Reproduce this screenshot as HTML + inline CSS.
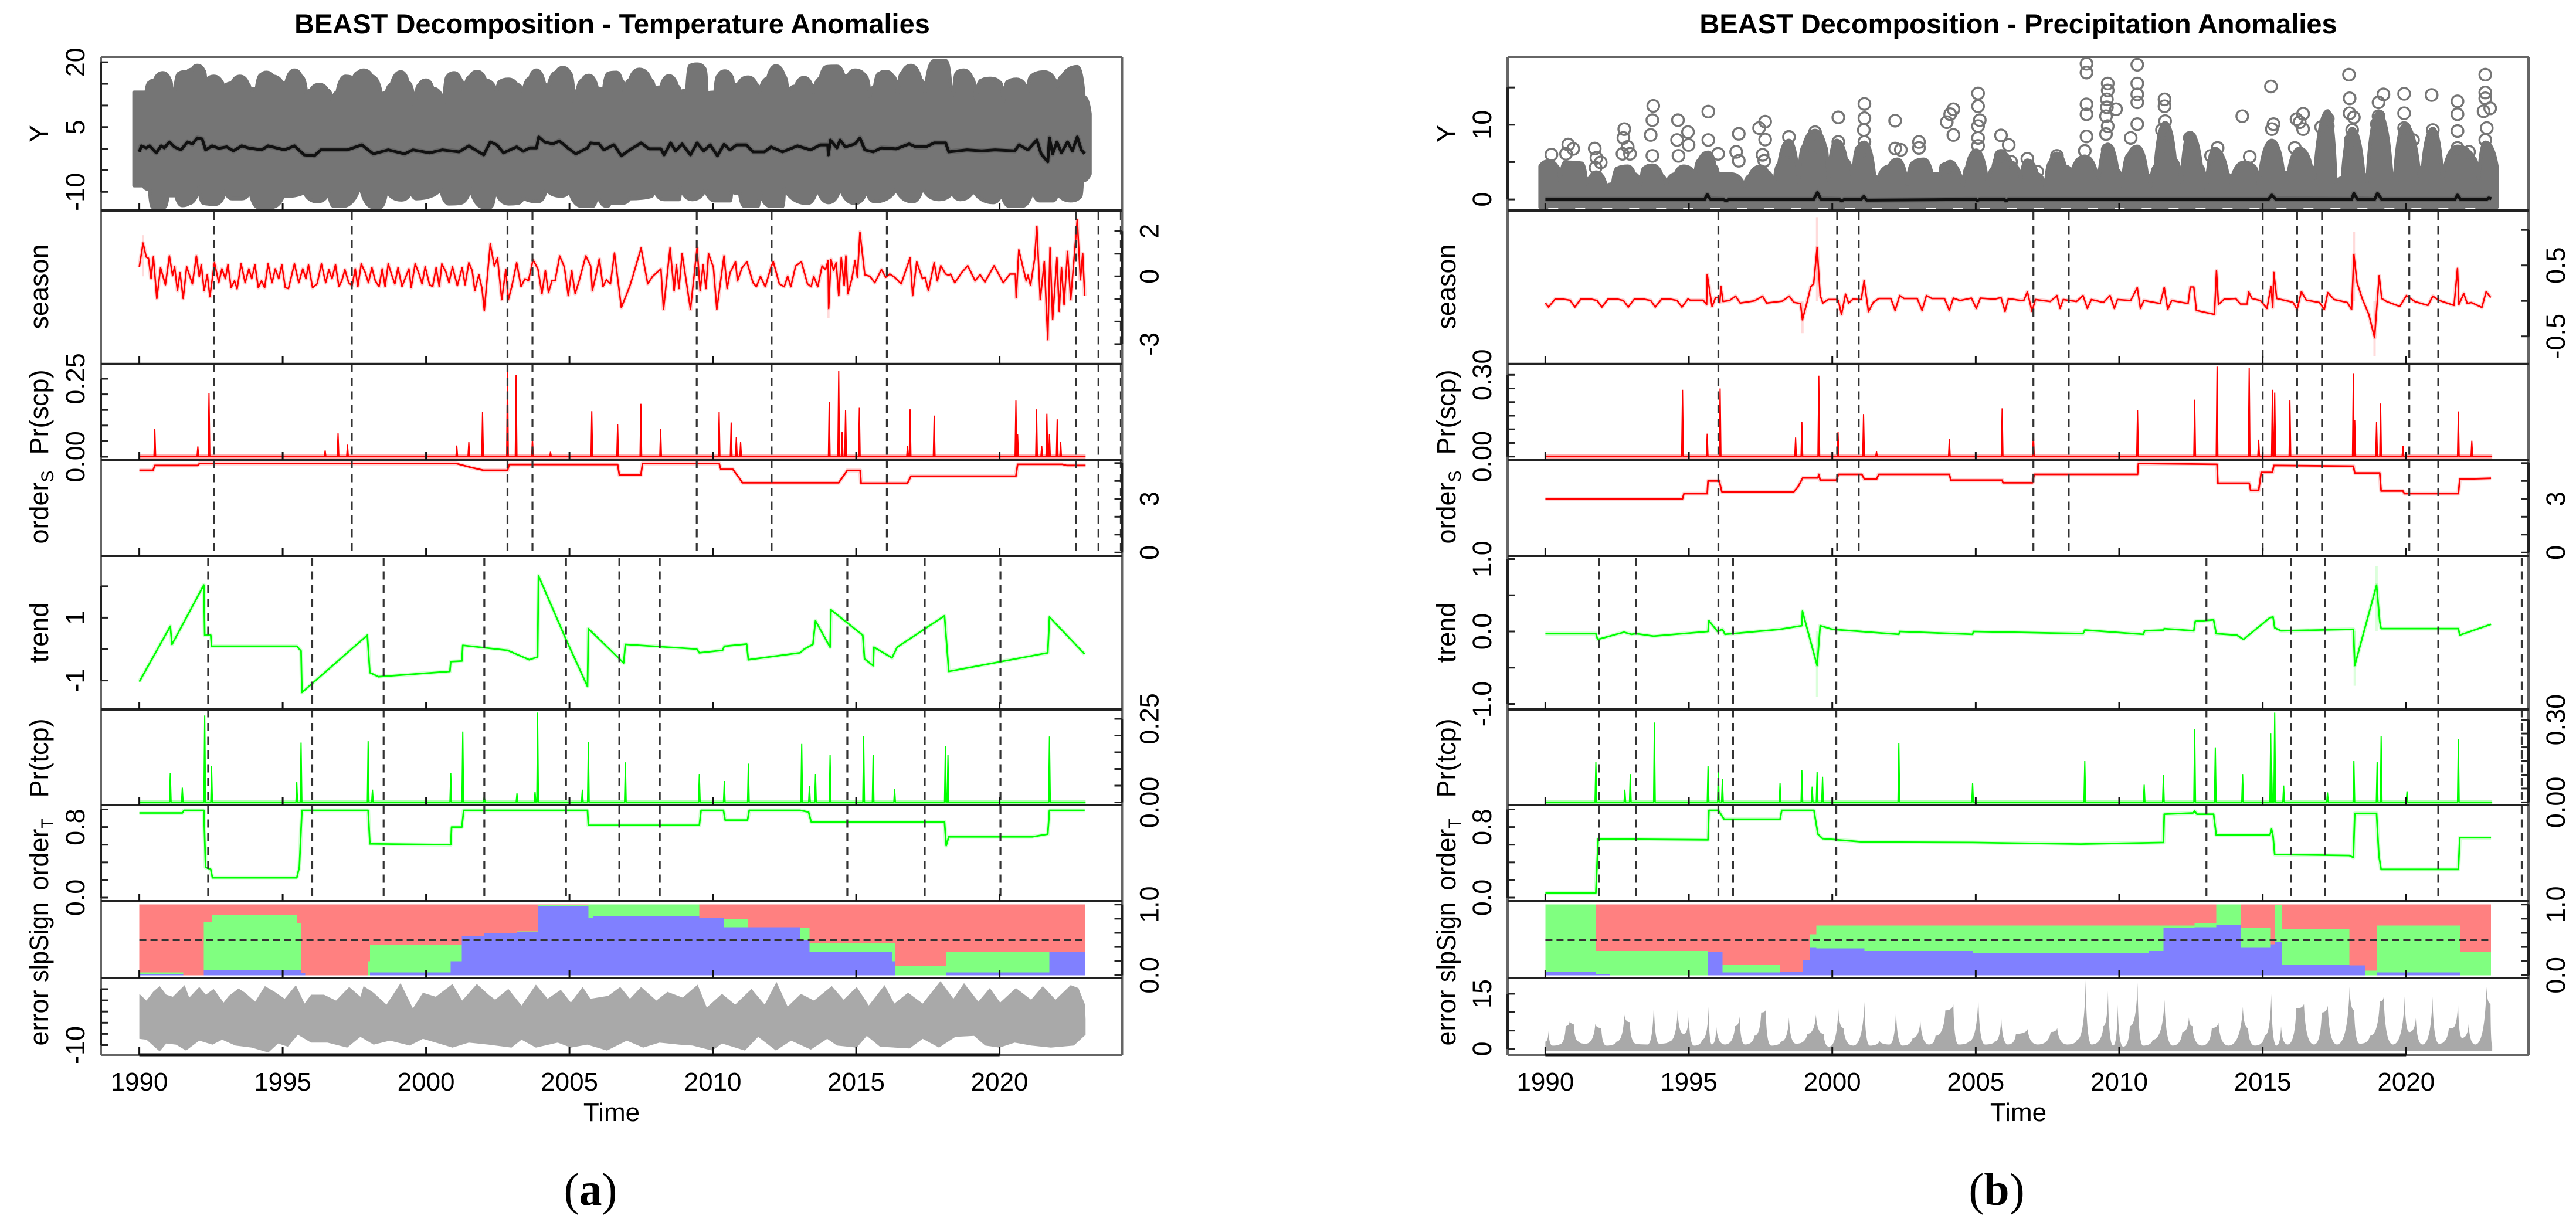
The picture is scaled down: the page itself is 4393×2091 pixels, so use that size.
<!DOCTYPE html>
<html lang="en">
<head>
<meta charset="utf-8">
<title>BEAST Decomposition - Temperature and Precipitation Anomalies</title>
<style>
html,body{margin:0;padding:0;background:#fff;}
svg{display:block;}
text{font-family:"Liberation Sans",sans-serif;fill:#000;}
.name{font-size:45px;text-anchor:middle;}
.time{font-size:44px;text-anchor:middle;}
.title{font-size:47px;font-weight:bold;text-anchor:middle;}
.cap{font-family:"Liberation Serif",serif;font-size:78px;text-anchor:middle;}
</style>
</head>
<body>
<svg id="figure" xmlns="http://www.w3.org/2000/svg" width="4393" height="2091" viewBox="0 0 4393 2091">
<rect x="0" y="0" width="4393" height="2091" fill="#fff"/>
<defs>
<clipPath id="clipYA"><rect x="172" y="97" width="1742" height="262"/></clipPath>
<clipPath id="clipYB"><rect x="2571" y="97" width="1741" height="262"/></clipPath>
</defs>
<g id="plotA"></g>
<g id="plotB"></g>

<text class="title" x="1044" y="57">BEAST Decomposition - Temperature Anomalies</text>
<text class="title" x="3442" y="57">BEAST Decomposition - Precipitation Anomalies</text>

<text class="name" transform="translate(82 228) rotate(-90)">Y</text>
<text class="name" transform="translate(82 489) rotate(-90)">season</text>
<text class="name" transform="translate(82 703) rotate(-90)">Pr(scp)</text>
<text class="name" transform="translate(82 865) rotate(-90)">order<tspan dy="9" font-size="30">S</tspan></text>
<text class="name" transform="translate(82 1079) rotate(-90)">trend</text>
<text class="name" transform="translate(82 1293) rotate(-90)">Pr(tcp)</text>
<text class="name" transform="translate(82 1457) rotate(-90)">order<tspan dy="9" font-size="30">T</tspan></text>
<text class="name" transform="translate(82 1607) rotate(-90)" textLength="136" lengthAdjust="spacingAndGlyphs">slpSign</text>
<text class="name" transform="translate(82 1736) rotate(-90)">error</text>

<text class="name" transform="translate(2482 228) rotate(-90)">Y</text>
<text class="name" transform="translate(2482 489) rotate(-90)">season</text>
<text class="name" transform="translate(2482 703) rotate(-90)">Pr(scp)</text>
<text class="name" transform="translate(2482 865) rotate(-90)">order<tspan dy="9" font-size="30">S</tspan></text>
<text class="name" transform="translate(2482 1079) rotate(-90)">trend</text>
<text class="name" transform="translate(2482 1293) rotate(-90)">Pr(tcp)</text>
<text class="name" transform="translate(2482 1457) rotate(-90)">order<tspan dy="9" font-size="30">T</tspan></text>
<text class="name" transform="translate(2482 1607) rotate(-90)" textLength="136" lengthAdjust="spacingAndGlyphs">slpSign</text>
<text class="name" transform="translate(2482 1736) rotate(-90)">error</text>

<text class="time" x="1043" y="1912">Time</text>
<text class="time" x="3442" y="1912">Time</text>
<text class="cap" x="1007" y="2055">(<tspan font-weight="bold">a</tspan>)</text>
<text class="cap" x="3405" y="2055">(<tspan font-weight="bold">b</tspan>)</text>
</svg>

<script>
/* ---------- shared axis data ---------- */
const yearTicks=[1990,1995,2000,2005,2010,2015,2020];

/* ---------- temperature: axis ticks and labels ---------- */
const tempYTicks=[20,15,10,5,0,-5,-10];
const tempYLabels=["20","5","-10"];
const tempSeasonTicks=[2,1,0,-1,-2,-3];
const tempSeasonLabels=["2","0","-3"];
const tempScpTicks=[0,0.05,0.1,0.15,0.2,0.25];
const tempScpLabels=["0.25","0.00"];
const orderSTicks=[0,1,2,3,4,5];
const orderSLabels=["3","0"];
const tempTrendTicks=[-1,0,1,2];
const tempTrendLabels=["1","-1"];
const tempTcpTicks=[0,0.05,0.1,0.15,0.2,0.25];
const tempTcpLabels=["0.25","0.00"];
const orderTTicks=[0,0.2,0.4,0.6,0.8,1];
const orderTLabels=["0.8","0.0"];
const signTicks=[0,0.2,0.4,0.6,0.8,1];
const signLabels=["1.0","0.0"];
const tempErrorTicks=[-10,-5,0,5,10,15];
const tempErrorLabels=["-10"];

/* ---------- temperature: change points ---------- */
const tempSeasonCps=[1992.61,1997.41,2002.84,2003.71,2009.44,2012.05,2016.07,2022.67,2023.45,2024.23];
const tempTrendCps=[1992.4,1996.03,1998.52,2002.03,2004.88,2006.74,2008.15,2014.69,2017.39,2020.03];

/* ---------- temperature: Y envelope of the scatter cloud ---------- */
const tempCloudTopYears=[1990,1990.24,1990.36,1990.53,1990.82,1991.07,1991.13,1991.25,1991.39,1991.68,1991.85,1992.02,1992.25,1992.31,1992.6,1992.88,1992.94,1993.05,1993.23,1993.51,1993.8,1993.86,1994.09,1994.26,1994.43,1994.66,1995.01,1995.12,1995.41,1995.64,1995.84,1995.98,1996.27,1996.56,1996.73,1996.9,1997.19,1997.47,1997.65,1997.82,1998.11,1998.45,1998.62,1998.79,1999.12,1999.37,1999.6,1999.77,2000,2000.23,2000.63,2000.75,2000.98,2001.21,2001.32,2001.55,2001.78,2002.07,2002.47,2002.58,2002.87,2003.16,2003.39,2003.62,2003.85,2004.13,2004.25,2004.54,2004.77,2005,2005.17,2005.28,2005.45,2005.68,2005.97,2006.2,2006.37,2006.64,2006.81,2006.92,2007.1,2007.44,2007.84,2007.96,2008.19,2008.47,2008.76,2008.87,2009.1,2009.22,2009.45,2009.71,2009.79,2010.08,2010.2,2010.42,2010.65,2010.71,2010.88,2011.23,2011.52,2011.63,2011.92,2012.2,2012.49,2012.61,2012.89,2013.18,2013.43,2013.52,2013.75,2013.98,2014.33,2014.58,2014.73,2014.96,2015.3,2015.48,2015.65,2015.82,2016.03,2016.28,2016.45,2016.62,2016.91,2017.26,2017.41,2017.72,2018.12,2018.29,2018.4,2018.52,2018.75,2019.04,2019.17,2019.38,2019.67,2020.01,2020.13,2020.3,2020.59,2020.99,2021.1,2021.56,2022.02,2022.19,2022.71,2022.94,2022.97];
const tempCloudTopValues=[12.1,12.1,14.4,14.9,16.6,14.9,12.8,12.8,16.5,16.9,17.4,18.3,17.1,14.6,15.8,14.4,12.3,13.9,14.2,15.8,13.9,12.6,13,16.2,16.7,15.8,13.9,14.4,17.2,15.8,11.2,12.6,13.9,12.6,10,12.1,15.8,15.3,16.7,17.2,15.8,11.2,12.1,13.9,16.8,14.4,8.9,13.9,14.9,13,9.8,15.8,16.6,14.9,11.9,15.8,16.9,14.9,12.1,14.6,15.1,13.9,12.1,15.3,17.2,13.9,13,16.7,17.8,16.7,9.8,12.6,14.9,16,13,12.8,16.5,16.7,14.9,12.1,14.9,17.4,14.9,13,13.3,15.9,13.5,12.1,12.6,18.3,18.6,17.6,11.9,12.1,16,17,15.8,13.9,13.9,15.6,13.9,12.1,15.3,18.2,15.8,12.1,13.5,15.5,13.9,12.1,15.3,18,18.1,15.5,16,17.2,16,11.2,13.5,16.5,16.9,15.8,11.9,16.7,18.3,14.9,12.1,19.4,19.4,13.5,11.6,16.7,17.2,15.3,10.7,14.9,15.3,14.4,10,14.6,15.1,12.3,15.8,16.8,13.5,15.8,18,11,7.1];
const tempCloudBottomYears=[1990,1990.13,1990.36,1990.47,1990.87,1990.99,1991.28,1991.5,1991.73,1992.08,1992.25,1992.65,1993,1993.23,1993.57,1993.86,1994.15,1994.6,1995.01,1995.75,1996.21,1996.61,1996.79,1997.07,1997.7,1998.16,1998.39,1998.62,1999.14,1999.48,1999.66,2000.52,2000.8,2001.15,2001.55,2002.01,2002.24,2002.41,2002.87,2003.16,2003.39,2003.9,2004.19,2004.71,2005,2005.45,2005.8,2005.97,2006.31,2006.41,2006.81,2007.1,2007.84,2007.96,2008.3,2008.82,2008.87,2009.28,2009.74,2010.08,2010.6,2010.65,2010.94,2011.11,2011.57,2011.63,2012.03,2012.43,2012.49,2013.3,2013.64,2014.04,2014.44,2014.96,2015.36,2015.65,2016.39,2016.97,2017.31,2017.89,2018.35,2018.63,2019.09,2019.78,2020.07,2020.36,2020.76,2021.16,2021.39,2021.85,2022.02,2022.48,2022.82,2022.88,2022.97];
const tempCloudBottomValues=[-7.6,-7.6,-8.5,-12.6,-12.6,-9.9,-9.9,-12.2,-11.7,-8,-11.7,-11.9,-8.8,-10.6,-10.6,-8.8,-12.6,-12.6,-10.1,-9.2,-11.3,-9.2,-12.4,-12.4,-7.6,-12.6,-12.6,-8.8,-10.9,-9,-10.6,-8.5,-11.8,-11.7,-8.3,-12.6,-12.6,-8.5,-11.8,-11.7,-10.4,-11.3,-8.5,-10,-8.8,-12.4,-12.4,-9.4,-12.4,-11.7,-11.7,-10.6,-10.1,-8.5,-10.8,-10.8,-8.1,-10.8,-8.5,-11.1,-11.1,-9,-9.4,-12.4,-12.4,-8.8,-12.4,-12.4,-8.3,-11.7,-8.1,-11.5,-8.1,-11.7,-8.8,-11.3,-8.5,-11.3,-8.1,-10.8,-9.2,-10.8,-8.8,-11.5,-9.4,-12.4,-12.4,-8.5,-11.1,-11.1,-9.4,-11.1,-10.1,-6.5,-4.9];

/* ---------- temperature: fitted Y ---------- */
const tempFitYears=[1990,1990.07,1990.24,1990.36,1990.59,1990.76,1990.87,1991.05,1991.22,1991.45,1991.68,1991.85,1992.02,1992.19,1992.31,1992.54,1992.77,1993.05,1993.28,1993.57,1993.8,1994.26,1994.49,1995.06,1995.41,1995.75,1996.1,1996.33,1996.79,1997.25,1997.76,1998.16,1998.68,1999.25,1999.54,2000.12,2000.57,2001.15,2001.49,2002.01,2002.24,2002.47,2002.7,2003.16,2003.39,2003.62,2003.85,2003.93,2004.13,2004.42,2004.65,2004.94,2005.22,2005.63,2005.74,2006.03,2006.2,2006.54,2006.58,2006.81,2007.1,2007.5,2007.78,2008.19,2008.3,2008.53,2008.7,2008.93,2009.22,2009.45,2009.68,2009.91,2010.16,2010.39,2010.6,2010.83,2011.17,2011.4,2011.8,2012.03,2012.43,2012.95,2013.41,2013.75,2014.01,2014.03,2014.1,2014.33,2014.44,2014.62,2014.96,2015.13,2015.3,2015.59,2015.88,2016.39,2016.85,2017.08,2017.43,2017.72,2018.12,2018.23,2018.86,2019.38,2019.84,2020.53,2020.68,2020.99,2021.3,2021.45,2021.68,2021.74,2021.85,2022,2022.16,2022.37,2022.54,2022.71,2022.85,2022.97];
const tempFitValues=[-0.73,0.64,0.19,0.65,-0.96,0.65,0.19,1.56,0.42,-0.27,1.56,1.1,2.48,2.25,-0.27,0.65,0.1,0.42,-0.5,0.65,0.19,-0.27,0.65,-0.27,0.65,-1.42,-1.65,-0.27,-0.27,-0.27,0.88,-1.19,-0.27,-1.19,-0.27,-0.96,-0.27,-0.73,0.65,-1.42,1.56,0.88,-0.96,0.42,-0.59,0.19,0.19,2.71,1.56,1.1,1.79,0.19,-1.19,0.19,1.33,1.1,-0.27,0.88,0.65,-1.65,-0.27,1.33,-0.04,-0.04,-1.42,1.33,-0.5,1.1,-1.42,1.33,-0.5,0.88,-1.65,1.01,-0.27,0.88,0.88,-0.73,-0.73,0.42,-0.73,0.65,-0.27,0.88,0.88,-1.42,2,0.19,2,0.42,1.1,2.48,-0.27,-0.73,0.19,-0.04,1.1,0.42,0.42,1.33,1.33,-0.73,-0.27,-0.5,-0.27,-0.5,0.88,-0.27,2.02,-1.19,-3.02,2.48,-1.19,1.56,-0.96,1.56,-0.5,2.71,-0.27,-1.19];

/* ---------- temperature: season ---------- */
const tempSeasonYears=[1990,1990.13,1990.24,1990.32,1990.41,1990.49,1990.61,1990.74,1990.91,1991.05,1991.16,1991.23,1991.33,1991.42,1991.53,1991.65,1991.85,1991.99,1992.09,1992.16,1992.26,1992.37,1992.46,1992.62,1992.77,1992.88,1993,1993.09,1993.2,1993.32,1993.41,1993.55,1993.69,1993.82,1993.92,1994.03,1994.15,1994.26,1994.37,1994.49,1994.63,1994.74,1994.86,1994.97,1995.09,1995.2,1995.41,1995.56,1995.7,1995.81,1995.9,1996.04,1996.2,1996.35,1996.5,1996.61,1996.72,1996.84,1996.96,1997.06,1997.17,1997.3,1997.42,1997.53,1997.62,1997.74,1997.88,1997.99,1998.11,1998.23,1998.36,1998.47,1998.57,1998.68,1998.8,1998.91,1999.02,1999.16,1999.4,1999.48,1999.62,1999.74,1999.86,1999.97,2000.12,2000.23,2000.35,2000.46,2000.55,2000.69,2000.8,2000.92,2001.09,2001.26,2001.36,2001.49,2001.61,2001.7,2001.84,2001.95,2002.03,2002.24,2002.38,2002.49,2002.64,2002.78,2002.87,2002.99,2003.16,2003.31,2003.45,2003.57,2003.73,2003.9,2004.04,2004.16,2004.27,2004.39,2004.5,2004.66,2004.82,2004.96,2005.08,2005.2,2005.34,2005.57,2005.74,2005.8,2005.92,2006.04,2006.17,2006.29,2006.43,2006.57,2006.81,2007.1,2007.21,2007.5,2007.73,2007.9,2008.19,2008.28,2008.51,2008.65,2008.73,2008.82,2008.93,2009.22,2009.45,2009.56,2009.66,2009.76,2009.85,2010.02,2010.14,2010.39,2010.5,2010.6,2010.79,2010.86,2011.02,2011.19,2011.4,2011.52,2011.66,2011.83,2012.03,2012.11,2012.32,2012.49,2012.61,2012.72,2012.89,2013.09,2013.3,2013.43,2013.52,2013.66,2013.81,2013.93,2014.02,2014.04,2014.12,2014.21,2014.3,2014.39,2014.48,2014.58,2014.64,2014.71,2014.85,2014.96,2015.04,2015.13,2015.3,2015.48,2015.65,2015.88,2016.03,2016.17,2016.34,2016.57,2016.88,2016.97,2017.11,2017.31,2017.4,2017.52,2017.72,2017.83,2017.95,2018.12,2018.23,2018.29,2018.44,2018.69,2018.89,2019.15,2019.32,2019.49,2019.81,2020.13,2020.36,2020.55,2020.58,2020.67,2020.93,2020.99,2021.08,2021.22,2021.3,2021.42,2021.56,2021.68,2021.76,2021.85,2022,2022.08,2022.16,2022.25,2022.37,2022.48,2022.71,2022.82,2022.9,2022.97];
const tempSeasonValues=[0.42,1.47,0.86,0.8,-0.1,0.86,-0.98,0.38,-0.37,0.9,0.03,0.42,-0.63,0.16,-0.98,0.42,-0.33,0.9,0,0.51,-0.63,0.07,-0.9,0.6,-0.28,0.33,-0.1,0.51,-0.5,-0.2,-0.55,0.55,-0.28,0.33,-0.1,0.51,-0.5,-0.2,-0.5,0.55,-0.28,0.33,-0.1,0.51,-0.5,-0.54,0.55,-0.28,0.33,-0.1,0.5,-0.5,-0.33,0.55,-0.28,0.29,-0.1,0.51,-0.45,-0.2,0.29,-0.28,-0.41,0.33,-0.45,0.55,0.16,-0.28,0.38,-0.2,-0.45,0.33,-0.45,0.55,0.07,-0.33,0.38,-0.45,0.33,-0.5,0.55,0.16,-0.33,0.42,-0.37,-0.45,0.38,-0.45,0.55,0.2,-0.28,0.42,-0.41,0.38,-0.37,0.6,0.25,-0.63,0.07,-0.54,-1.5,1.43,0.46,0.81,-1.03,0.29,-1.03,-0.45,0.6,-0.45,-0.11,-0.19,0.73,0.33,-0.76,0.25,-0.72,-0.19,-0.19,0.9,0.42,-0.85,0.25,-0.76,-0.19,0.9,0.46,-0.63,0.03,0.77,-0.45,-0.15,-0.33,1.03,-1.38,-0.45,0,1.25,-0.33,0,0.33,-1.46,1.25,-0.63,0.5,-0.54,1,-1.46,1.25,-0.63,0.5,-0.54,1,0.4,-1.46,0.9,-0.54,0.15,0.64,-0.2,0.38,0.64,-0.28,-0.46,0,-0.46,0.42,0.64,-0.33,-0.46,0,-0.46,0.46,0.64,-0.33,-0.46,0,-0.46,0.46,0.3,0.7,-1.42,0.75,0.25,0.6,-0.85,0.82,-0.4,0.9,-0.77,-0.1,0.68,-0.04,1.95,0.07,0,-0.28,0.3,-0.04,0.1,-0.04,-0.33,0.82,-0.85,0.64,-0.1,-0.04,-0.63,0.6,-0.2,0.47,0.1,0.05,0.1,-0.28,0.18,0.47,-0.2,0.08,-0.25,0.47,-0.28,0.1,0.1,-0.94,1.17,-0.2,0.05,-0.4,0.75,2.2,-1.03,0.64,-2.8,1.25,-1.9,0.82,-1.55,0.38,-1.25,1.1,-1.03,2.5,-0.15,1,-0.85];
const tempSeasonBandYears=[1990.13,2014.03];
const tempSeasonBandValues=[1.82,-1.86];

/* ---------- temperature: Pr(scp) ---------- */
const tempScpYears=[1990.54,1992.04,1992.43,1996.48,1996.93,1997.26,2001.07,2001.49,2001.97,2002.84,2003.14,2003.71,2004.34,2005.78,2006.68,2007.49,2008.18,2010.22,2010.64,2010.82,2010.97,2014.06,2014.39,2014.51,2014.63,2015.11,2016.79,2016.88,2017.72,2020.57,2020.63,2021.29,2021.47,2021.65,2021.74,2022.01,2022.13];
const tempScpValues=[0.0885,0.033,0.203,0.02,0.075,0.039,0.036,0.048,0.143,0.288,0.263,0.06,0.016,0.146,0.105,0.17,0.09,0.143,0.11,0.064,0.048,0.175,0.275,0.08,0.15,0.157,0.035,0.152,0.132,0.18,0.073,0.152,0.035,0.138,0.073,0.12,0.048];

/* ---------- temperature: orderS ---------- */
const tempOrderSYears=[1990,1990.48,1990.54,1992.04,1992.1,2001.04,2001.58,2002,2002.84,2002.9,2006.68,2006.74,2007.49,2007.55,2010.22,2010.28,2010.7,2010.88,2011.03,2014.39,2014.69,2015.14,2015.17,2016.79,2016.91,2020.57,2020.63,2022.19,2022.34,2023];
const tempOrderSValues=[4.6,4.6,4.87,4.87,4.98,4.98,4.75,4.6,4.6,4.92,4.92,4.33,4.33,4.98,4.98,4.65,4.65,4.26,3.9,3.9,4.59,4.59,3.88,3.88,4.27,4.27,4.93,4.93,4.87,4.87];

/* ---------- temperature: trend ---------- */
const tempTrendYears=[1990,1991.08,1991.14,1992.25,1992.28,1992.49,1992.52,1995.49,1995.64,1995.67,1997.95,1998.04,1998.34,2000.83,2000.86,2001.25,2001.28,2002.84,2003.6,2003.89,2003.92,2004.88,2005.63,2005.66,2006.89,2006.95,2009.44,2009.53,2010.34,2010.4,2011.18,2011.24,2013.04,2013.19,2013.49,2013.58,2014.09,2014.12,2015.23,2015.29,2015.59,2015.62,2016.25,2016.43,2018.08,2018.23,2021.68,2021.74,2022.97];
const tempTrendValues=[-1.04,0.725,0.15,2.04,0.44,0.44,0.09,0.09,-0.06,-1.38,0.44,-0.75,-0.88,-0.71,-0.4,-0.38,0.12,-0.04,-0.34,-0.25,2.33,0.31,-1.19,0.65,-0.44,0.15,0,-0.12,-0.04,0.09,0.16,-0.34,-0.12,0,0.15,0.9,0.06,1.25,0.44,-0.31,-0.53,0.06,-0.28,0.06,1.06,-0.71,-0.12,1.02,-0.16];

/* ---------- temperature: Pr(tcp) ---------- */
const tempTcpYears=[1991.08,1991.5,1992.28,1992.52,1995.49,1995.64,1997.98,1998.13,2000.86,2001.28,2002.03,2003.17,2003.8,2003.89,2005.45,2005.66,2006.95,2009.53,2010.4,2011.24,2013.1,2013.37,2013.58,2014.09,2015.26,2015.59,2016.34,2018.11,2018.2,2021.74];
const tempTcpValues=[0.088,0.044,0.26,0.108,0.061,0.179,0.183,0.038,0.088,0.212,0.024,0.027,0.032,0.269,0.038,0.18,0.12,0.085,0.064,0.116,0.175,0.05,0.085,0.142,0.198,0.142,0.041,0.169,0.142,0.197];

/* ---------- temperature: orderT ---------- */
const tempOrderTYears=[1990,1991.5,1991.56,1992.25,1992.31,1992.49,1992.55,1995.49,1995.58,1995.67,1997.98,1998.04,2000.86,2000.89,2001.25,2001.31,2005.63,2005.66,2009.53,2009.59,2010.37,2010.43,2011.21,2011.27,2013.04,2013.34,2013.43,2018.08,2018.14,2018.23,2021.14,2021.68,2021.74,2022.97];
const tempOrderTValues=[0.96,0.96,0.99,0.99,0.345,0.32,0.225,0.225,0.345,0.99,0.99,0.61,0.6,0.8,0.8,0.99,0.99,0.82,0.82,0.99,0.99,0.88,0.88,0.99,0.99,0.97,0.86,0.86,0.59,0.69,0.69,0.72,0.99,0.99];

/* ---------- temperature: slope sign probabilities ---------- */
const tempSignBreaks=[1990,1991.53,1992.25,1992.52,1995.49,1995.64,1995.79,1997.98,1998.04,2000.86,2001.25,2002.03,2003.17,2003.89,2005.66,2005.84,2009.53,2010.4,2011.24,2013.04,2013.37,2016.25,2016.37,2018.14,2021.74,2022.97];
const tempSignBlue=[0.02,0,0.07,0.07,0.07,0.03,0,0,0.04,0.2,0.555,0.595,0.61,0.98,0.805,0.83,0.805,0.68,0.68,0.5,0.33,0.2,0,0.04,0.33];
const tempSignGreen=[0.04,0,0.75,0.85,0.74,0.03,0,0.2,0.43,0.43,0.555,0.595,0.62,0.99,1,1,0.805,0.795,0.68,0.67,0.46,0.46,0.13,0.33,0.33];

/* ---------- temperature: error envelope ---------- */
const tempErrorTopYears=[1990,1990.25,1990.48,1990.71,1990.94,1991.17,1991.58,1991.74,1992.09,1992.32,1992.59,1992.94,1993.12,1993.46,1993.69,1994.04,1994.38,1994.72,1995.07,1995.46,1995.76,1995.99,1996.44,1996.86,1997.32,1997.71,1997.82,1998.17,1998.62,1999.11,1999.54,1999.89,2000.34,2000.92,2001.26,2001.77,2002.18,2002.41,2002.87,2003.33,2003.83,2004.24,2004.7,2005.05,2005.46,2005.73,2006.35,2006.77,2007.11,2007.5,2008.03,2008.42,2008.95,2009.47,2009.79,2010.32,2010.78,2011.35,2011.81,2012.22,2012.61,2013.07,2013.53,2014.15,2014.56,2015.02,2015.44,2015.99,2016.33,2016.81,2017.32,2017.94,2018.39,2018.76,2019.26,2019.66,2020.02,2020.57,2021.1,2021.51,2021.95,2022.48,2022.75,2022.98,2023];
const tempErrorTopValues=[12.9,9.9,13.8,16.4,12.5,11.6,16.8,11.2,16,12.5,15.1,9,12,15.3,13.4,9.4,16.4,13.8,10.7,16.8,8.55,12.5,12.5,9.9,16,11.6,16.4,13.4,8.1,17.7,6.4,13.4,11.6,17.3,9.9,17.3,12.5,10.3,15.1,7.7,17,10.7,14.7,9,16,10.7,12,16,10.7,16,9.9,13.8,11.2,17,6.8,12.9,8.1,15.1,8.1,18.2,7.2,12.9,9.9,16.4,10.3,16,7.7,16.8,8.55,13.4,8.55,18.6,10.7,17.7,9.4,15.5,9,15.5,10.3,16.4,10.3,16.8,15.5,8.1,1.6];
const tempErrorBottomYears=[1990,1990.25,1990.71,1990.94,1991.28,1991.63,1992.09,1992.55,1992.89,1993.35,1993.92,1994.5,1994.84,1995.18,1995.53,1995.99,1996.56,1997.25,1997.71,1998.17,1998.74,1999.43,1999.89,2000.34,2000.92,2001.49,2002.18,2002.98,2003.33,2003.83,2004.59,2005.05,2005.62,2006.31,2007,2007.57,2008.14,2008.83,2009.29,2009.98,2010.32,2011.12,2011.58,2012.2,2012.73,2013.42,2013.99,2014.33,2015.02,2015.37,2015.83,2016.86,2017.32,2017.89,2018.46,2019.11,2019.5,2020,2020.53,2021.1,2021.79,2022.59,2023];
const tempErrorBottomValues=[-7.2,-7.6,-12.8,-9.3,-9.8,-12.4,-8,-9.8,-7.6,-10.2,-11.1,-13.3,-9.3,-10.7,-5.4,-8.9,-8.9,-11.1,-6.3,-9.8,-8,-10.2,-7.2,-8.9,-11.1,-8.9,-9.8,-11.1,-7.6,-11.1,-8.9,-11.1,-9.8,-12.4,-8,-11.1,-8.9,-9.8,-10.2,-12.4,-9.3,-12.4,-6.3,-12.4,-8,-12,-7.2,-10.2,-11.1,-5.9,-10.7,-11.5,-7.2,-11.1,-6.3,-5.9,-10.2,-11.1,-8.9,-10.2,-11.1,-10.2,-5.4];

/* ---------- precipitation: axis ticks and labels ---------- */
const precipYTicks=[15,10,5,0];
const precipYLabels=["10","0"];
const precipSeasonTicks=[1,0.5,0,-0.5];
const precipSeasonLabels=["0.5","-0.5"];
const precipScpTicks=[0,0.05,0.1,0.15,0.2,0.25,0.3];
const precipScpLabels=["0.30","0.00"];
const precipTrendTicks=[-1,-0.5,0,0.5,1];
const precipTrendLabels=["1.0","0.0","-1.0"];
const precipTcpTicks=[0,0.05,0.1,0.15,0.2,0.25,0.3];
const precipTcpLabels=["0.30","0.00"];
const precipErrorTicks=[0,5,10,15];
const precipErrorLabels=["15","0"];

/* ---------- precipitation: change points ---------- */
const precipSeasonCps=[1996.03,2000.17,2000.92,2007.01,2008.24,2015,2016.2,2017.07,2020.11,2021.12];
const precipTrendCps=[1991.87,1993.16,1996.03,1996.54,2000.14,2013.04,2015.98,2017.18,2021.12,2024.03];

/* ---------- precipitation: Y cloud ---------- */
const precipCloudTopYears=[1990,1990.11,1990.4,1990.52,1990.69,1991.26,1991.43,1991.55,1991.78,1992.12,1992.35,1992.52,1992.87,1993.1,1993.33,1993.44,1993.73,1994.07,1994.21,1994.53,1994.82,1995.22,1995.36,1995.68,1995.91,1996.02,1996.48,1996.94,1997.11,1997.51,1997.74,1997.97,1998.14,1998.49,1998.83,1999,1999.4,1999.75,1999.86,2000.15,2000.49,2000.72,2000.89,2001.12,2001.47,2001.58,2001.98,2002.27,2002.61,2002.84,2003.19,2003.47,2003.76,2003.82,2004.11,2004.56,2004.68,2005.02,2005.42,2005.6,2005.88,2006.23,2006.57,2006.8,2007.14,2007.43,2007.6,2007.83,2008.11,2008.34,2008.8,2009.2,2009.29,2009.6,2009.94,2010.11,2010.34,2010.63,2010.97,2011.09,2011.26,2011.6,2011.95,2012.17,2012.46,2012.86,2013.03,2013.32,2013.78,2013.89,2014.35,2014.69,2014.86,2015.32,2015.72,2015.89,2016.29,2016.69,2016.81,2017.27,2017.55,2017.78,2018.12,2018.52,2018.64,2019.04,2019.5,2019.61,2019.95,2020.47,2020.58,2020.93,2021.27,2021.79,2022.36,2022.53,2022.76,2022.98];
const precipCloudTopValues=[3.9,4.57,3.9,1.78,4.43,4.3,1.51,2.31,3.1,1.25,1.51,3.64,3.9,2.84,1.51,3.64,4.04,2.58,1.51,2.84,3.9,2.84,4.7,5.76,3.9,2.84,2.84,1.25,2.58,3.9,3.1,1.25,4.17,7.35,1.78,6.56,8.68,6.56,2.04,7.35,4.7,2.04,6.29,7.09,2.58,2.04,3.9,4.83,1.51,4.43,4.83,2.84,2.84,4.04,4.3,1.25,3.64,6.03,1.25,3.64,5.76,4.43,2.31,4.7,2.84,0.98,4.43,5.63,3.9,3.1,5.23,3.1,2.31,6.82,3.37,1.25,5.5,6.56,2.84,1.25,3.9,9.74,4.7,1.78,8.42,3.9,0.72,6.29,2.84,1.78,4.43,3.9,1.51,7.35,3.1,2.84,6.29,3.9,2.31,11.3,1.78,2.31,8.95,2.84,1.78,11.07,2.58,2.84,9.48,2.58,3.9,8.95,2.31,6.56,4.96,2.31,7.09,3.9];
const precipCloudBottomYears=[1990,2022.98];
const precipCloudBottomValues=[-0.5,-0.5];
const precipOutlierYears=[1990.21,1990.8,1990.97,1990.72,1991.72,1991.78,1991.93,1991.75,1992.75,1992.72,1992.87,1992.69,1992.95,1993.76,1993.73,1993.67,1993.73,1994.62,1994.59,1994.97,1994.99,1994.64,1995.68,1995.68,1996.02,1996.74,1996.65,1996.74,1997.66,1997.45,1997.66,1997.57,1997.63,1998.49,1998.43,1999.4,1999.35,2000.21,2000.21,2001.12,2001.12,2001.1,2001.12,2001.01,2002.19,2002.19,2002.39,2003.02,2003.02,2004.22,2004.11,2003.99,2004.22,2004.11,2005.08,2005.08,2005.14,2005.08,2005.08,2005.08,2005.88,2006.15,2005.88,2006.23,2006.8,2007.14,2007.83,2008.8,2008.86,2008.86,2008.86,2008.86,2008.86,2009.6,2009.6,2009.57,2009.57,2009.89,2009.54,2009.6,2009.54,2009.6,2010.63,2010.63,2010.63,2010.63,2010.63,2010.4,2011.58,2011.58,2011.6,2011.49,2011.54,2012.46,2013.43,2013.2,2014.55,2014.29,2015.38,2015.32,2015.29,2016.18,2016.41,2016.29,2016.41,2016.12,2017.04,2017.27,2017.27,2018.01,2018.03,2018.03,2018.18,2018.12,2018.07,2019.04,2019.21,2019.04,2018.98,2019.93,2019.93,2019.93,2020.24,2020.89,2020.93,2020.93,2021.79,2021.79,2021.79,2021.79,2022.19,2022.76,2022.76,2022.76,2022.93,2022.7,2022.81,2022.76];
const precipOutlierValues=[6,7.35,6.77,6.11,6.82,5.57,4.96,4.25,9.42,8.23,7.03,6.11,6.11,12.53,10.62,8.63,5.84,10.62,7.96,9.02,7.3,5.84,11.77,7.96,6.11,8.79,6.37,5.18,10.42,9.56,8.01,5.97,5.18,8.37,6.37,9,7.03,11,7.7,12.8,10.88,9.29,7.7,6.51,10.54,6.82,6.64,7.7,6.9,12.08,11.42,10.35,8.63,4.38,14.2,12.48,10.62,9.82,8.23,7.17,8.58,7.3,5.84,5.04,5.44,3.72,5.84,6.5,18.18,16.99,12.74,11.41,8.44,15.53,14.6,13.41,12.34,12.08,11.15,9.82,8.76,6.64,18.05,15.53,14.07,13.01,10.09,8.23,13.41,12.48,10.49,9.29,7.17,8.23,6.9,5.84,5.71,11.15,10.09,9.42,15.13,10.75,11.47,10.35,9.42,6.9,9.69,10.8,9.82,16.72,13.54,11.54,11,9.29,7.96,11.15,14.07,13.01,10.09,14.15,11.55,9.56,7.96,13.99,9.29,8.1,13.14,11.41,9.16,6.9,6.37,16.72,14.33,13.54,12.21,11.81,9.56,7.96];
const precipFitYears=[1990,1995.55,1995.64,1995.75,1996.2,1996.3,1996.4,1999.35,1999.48,1999.6,2000.25,2000.32,2000.42,2001,2001.1,2001.2,2005,2005.05,2005.15,2006,2006.05,2006.15,2010,2015.2,2015.32,2015.45,2018.1,2018.18,2018.3,2018.9,2019,2019.15,2021.7,2021.79,2021.9,2022.8,2022.88,2022.97];
const precipFitValues=[0,0,0.66,0.05,0,-0.2,0,0,0.93,0.05,0,-0.2,0,0,0.4,-0.1,0,-0.15,0,0,-0.2,0,0,0,0.58,0.05,0,0.8,0.05,0,0.8,0,0,0.58,0,0,0.2,0.1];

/* ---------- precipitation: season ---------- */
const precipSeasonYears=[1990,1990.11,1990.34,1990.63,1990.86,1991.03,1991.23,1991.61,1991.8,1991.97,1992.18,1992.52,1992.72,1992.89,1993.1,1993.44,1993.67,1993.83,1994.05,1994.36,1994.59,1994.76,1994.97,1995.05,1995.5,1995.62,1995.64,1995.81,1995.93,1996.02,1996.08,1996.12,1996.19,1996.42,1996.63,1996.79,1997.28,1997.57,1997.71,1998.26,1998.5,1998.66,1998.89,1998.96,1999.12,1999.25,1999.35,1999.47,1999.58,1999.67,1999.86,2000.15,2000.21,2000.32,2000.46,2000.57,2000.72,2001.01,2001.11,2001.26,2001.43,2001.62,2002.04,2002.19,2002.35,2002.5,2002.96,2003.13,2003.28,2003.47,2003.91,2004.08,2004.22,2004.45,2004.85,2005.02,2005.16,2005.65,2005.88,2006.02,2006.14,2006.57,2006.68,2006.8,2006.96,2007.08,2007.6,2007.83,2007.94,2008.05,2008.51,2008.74,2008.89,2009.03,2009.45,2009.68,2009.83,2009.94,2010.4,2010.63,2010.74,2010.86,2011.43,2011.57,2011.69,2011.83,2012.4,2012.48,2012.6,2012.69,2013.32,2013.39,2013.46,2013.66,2014.06,2014.23,2014.46,2014.51,2014.63,2014.92,2015.15,2015.29,2015.35,2015.39,2015.49,2015.95,2016.06,2016.2,2016.35,2016.52,2016.98,2017.15,2017.27,2017.49,2017.95,2018.1,2018.18,2018.29,2018.47,2018.7,2018.9,2019.06,2019.15,2019.32,2019.78,2020.01,2020.3,2020.76,2020.93,2021.16,2021.67,2021.79,2021.84,2022.01,2022.13,2022.27,2022.64,2022.79,2022.95];
const precipSeasonValues=[-0.03,-0.087,0.025,0.025,0.01,-0.087,0.025,0.025,0.006,-0.087,0.025,0.025,0.006,-0.087,0.025,0.025,0.006,-0.087,0.025,0.025,0.006,-0.087,0.028,0.011,0.011,-0.05,0.37,-0.08,0.047,0.047,-0.022,0.2,-0.008,0.006,0.067,-0.03,0,0.067,-0.03,-0.003,0.067,-0.02,-0.036,-0.265,-0.02,0.2,0.24,0.75,0.076,-0.03,0.02,0.02,0.006,-0.19,0.095,-0.03,0.025,0.02,0.285,-0.15,-0.02,0.034,0.034,-0.134,0.076,0.034,0.034,-0.134,0.076,0.034,0.034,-0.134,0.04,0.006,0.04,-0.106,0.04,0.025,0.047,-0.148,0.034,0.006,0.011,0.13,-0.148,0.02,-0.008,0.076,-0.106,0.02,-0.008,0.076,-0.106,0.02,-0.022,0.076,-0.106,0.02,0.006,0.187,-0.106,0.006,-0.036,0.187,-0.12,0.006,-0.036,0.196,0.196,-0.134,-0.19,0.425,-0.05,0.025,0.034,-0.045,-0.045,0.13,0.034,0.006,-0.106,0.2,-0.092,0.4,0.034,-0.008,-0.022,-0.12,0.131,0.011,-0.022,-0.12,0.117,0.02,-0.022,-0.12,0.65,0.257,0.034,-0.19,-0.518,0.355,0.034,-0.008,-0.078,0.076,-0.008,-0.064,0.067,0.006,-0.064,0.458,-0.05,0.103,-0.036,-0.022,-0.092,0.131,0.047];
const precipSeasonBandYears=[1999.47,1998.96,2018.18,2018.9];
const precipSeasonBandValues=[1.18,-0.455,0.97,-0.78];

/* ---------- precipitation: Pr(scp) ---------- */
const precipScpYears=[1994.78,1995.64,1996.09,1998.72,1998.94,1999.53,2000.2,2001.09,2001.54,2004.08,2005.92,2007.01,2010.64,2012.63,2013.41,2014.53,2014.86,2015.34,2015.42,2015.95,2018.16,2018.21,2018.97,2019.11,2019.89,2021.82,2022.29];
const precipScpValues=[0.245,0.084,0.25,0.07,0.127,0.297,0.09,0.156,0.019,0.065,0.177,0.086,0.17,0.209,0.33,0.325,0.062,0.245,0.235,0.206,0.304,0.134,0.127,0.195,0.04,0.166,0.058];

/* ---------- precipitation: orderS ---------- */
const precipOrderSYears=[1990,1994.78,1994.83,1995.64,1995.67,1996.06,1996.15,1998.66,1998.8,1998.97,1999.5,1999.53,1999.58,2000.14,2000.22,2001.03,2001.12,2001.54,2001.62,2004.08,2004.13,2005.92,2005.95,2006.98,2007.04,2010.64,2010.67,2013.41,2013.44,2014.53,2014.58,2014.86,2014.95,2015.34,2015.39,2018.16,2018.21,2019.08,2019.13,2019.89,2019.94,2021.82,2021.87,2022.96];
const precipOrderSValues=[3,3,3.29,3.29,4,4,3.4,3.4,3.66,4.17,4.17,4.37,4.05,4.05,4.37,4.37,4.1,4.1,4.37,4.37,4.05,4.05,3.9,3.9,4.37,4.37,4.98,4.93,3.88,3.88,3.48,3.48,4.48,4.48,4.87,4.83,4.45,4.45,3.44,3.44,3.29,3.29,4.1,4.15];

/* ---------- precipitation: trend ---------- */
const precipTrendYears=[1990,1991.76,1991.82,1992.74,1993,1993.16,1993.77,1995.67,1995.7,1996,1996.17,1996.26,1998.18,1998.94,1998.96,1999.47,1999.58,2000,2002.32,2002.35,2004.89,2004.92,2008.74,2008.8,2010.84,2010.89,2011.54,2011.57,2012.6,2012.65,2013.29,2013.38,2014.1,2014.33,2015.25,2015.36,2015.42,2015.64,2018.16,2018.21,2018.97,2019.08,2019.13,2021.82,2021.87,2022.96];
const precipTrendValues=[-0.03,-0.03,-0.11,-0.01,-0.04,-0.03,-0.064,0,0.15,0,0.03,-0.04,0.03,0.08,0.28,-0.47,0.08,0.03,-0.04,0,-0.04,0,-0.03,0.02,-0.04,0.01,0.02,0.04,0.01,0.14,0.16,-0.03,-0.05,-0.11,0.19,0.2,0.05,0.01,0.03,-0.47,0.64,0.14,0.04,0.04,-0.05,0.1];
const precipTrendBandYears=[1999.47,2018.21,2018.97];
const precipTrendBandValues=[-0.9,-0.75,0.9];

/* ---------- precipitation: Pr(tcp) ---------- */
const precipTcpYears=[1991.76,1992.77,1992.96,1993.8,1995.67,1996.03,1996.17,1998.18,1998.94,1999.3,1999.47,1999.66,2002.32,2004.89,2008.8,2010.87,2011.54,2012.63,2013.35,2014.3,2015.28,2015.31,2015.42,2015.73,2017.26,2018.18,2018.99,2019.13,2020.03,2021.82];
const precipTcpValues=[0.146,0.046,0.103,0.29,0.131,0.114,0.086,0.069,0.117,0.057,0.111,0.093,0.214,0.071,0.15,0.064,0.1,0.267,0.2,0.103,0.25,0.143,0.326,0.061,0.036,0.15,0.147,0.24,0.04,0.231];

/* ---------- precipitation: orderT ---------- */
const precipOrderTYears=[1990,1991.76,1991.84,1995.67,1995.7,1996.03,1996.23,1998.18,1998.24,1999.36,1999.5,1999.66,2001.12,2004.89,2008.66,2011.54,2011.57,2012.57,2012.63,2012.71,2013.29,2013.38,2015.25,2015.31,2015.36,2015.42,2018.02,2018.16,2018.21,2018.97,2019.05,2019.13,2021.82,2021.87,2022.96];
const precipOrderTValues=[0.055,0.055,0.665,0.656,0.99,0.99,0.89,0.89,0.99,0.99,0.72,0.67,0.63,0.625,0.607,0.625,0.946,0.96,0.98,0.946,0.946,0.71,0.71,0.776,0.7,0.49,0.478,0.456,0.955,0.955,0.478,0.32,0.32,0.68,0.68];

/* ---------- precipitation: slope sign probabilities ---------- */
const precipSignBreaks=[1990,1991.76,1992.26,1995.67,1996.17,1998.18,1998.97,1999.22,1999.44,2001.12,2004.89,2011.03,2011.54,2012.63,2013.38,2014.25,2015.28,2015.42,2015.67,2018.02,2018.58,2018.99,2021.87,2022.96];
const precipSignBlue=[0.055,0.02,0,0.333,0.04,0.05,0.22,0.39,0.38,0.345,0.32,0.345,0.665,0.68,0.71,0.39,0.44,0.47,0.15,0.14,0,0.04,0];
const precipSignGreen=[1,0.345,0.345,0.333,0.15,0.05,0.22,0.58,0.705,0.705,0.705,0.705,0.705,0.74,1,0.665,0.44,0.99,0.655,0.14,0.067,0.705,0.33];

/* ---------- precipitation: error envelope ---------- */
const precipErrorTopYears=[1990,1990.11,1990.25,1990.48,1990.71,1990.85,1990.99,1991.17,1991.4,1991.74,1991.95,1992.13,1992.48,1992.75,1992.94,1993.17,1993.56,1993.78,1993.97,1994.31,1994.61,1994.82,1995,1995.18,1995.46,1995.69,1995.8,1995.96,1996.26,1996.61,1996.77,1996.95,1997.29,1997.52,1997.68,1997.87,1998.21,1998.49,1998.74,1999.13,1999.43,1999.7,1999.89,2000.21,2000.39,2000.73,2001.12,2001.31,2001.65,2001.99,2002.22,2002.45,2002.8,2003.07,2003.37,2003.6,2003.94,2004.22,2004.4,2004.75,2005.09,2005.32,2005.66,2005.89,2006.12,2006.4,2006.81,2007.16,2007.61,2007.84,2008.19,2008.53,2008.83,2009.04,2009.45,2009.61,2009.79,2009.95,2010.14,2010.37,2010.64,2010.83,2011.17,2011.58,2011.86,2012.2,2012.43,2012.55,2012.89,2013.23,2013.46,2013.81,2014.31,2014.49,2014.73,2015.07,2015.3,2015.48,2015.64,2015.87,2016.17,2016.44,2016.79,2017.06,2017.27,2017.59,2018.03,2018.19,2018.39,2018.74,2019.08,2019.22,2019.54,2019.95,2020.11,2020.34,2020.57,2020.92,2021.15,2021.49,2021.61,2021.81,2021.95,2022.18,2022.41,2022.8,2022.94,2023];
const precipErrorTopValues=[2,4.9,0.9,1.2,6.2,7.6,6.8,2,1.4,6.8,5.7,0.9,2,9.4,7.3,1.4,1.2,12.9,1.4,2,10.7,4.1,9.1,0.9,2.5,11.5,1.2,6,1.2,6.2,8.9,1.2,3.6,9.9,10.6,0.9,2,8.6,1.4,4.1,9.4,4.1,0.6,11,5.7,0.9,12.8,0.9,2.2,1.2,10.9,0.9,3,7.8,1.2,3.6,10.5,12.1,1.2,2,14.3,1.2,2,8.6,1.2,4.1,5.4,1.2,4.6,5.7,1.2,2.5,18.7,1.2,6.2,15.8,0.9,12.1,0.6,6.2,18,0.9,2.5,13.4,0.9,4.6,8.6,6.2,0.9,5.7,7.2,0.9,11.5,5.7,0.9,3.6,15,0.9,6.2,1.2,11,12.3,1.2,9.9,11.8,1.2,16.9,10.5,1.4,3.6,12.9,14.2,1.2,14.3,4.6,8.4,1.2,14.2,1.4,5.7,5.7,12.9,3,6.8,1.2,16.9,12.3,0.9];
const precipErrorBottomYears=[1990,2023];
const precipErrorBottomValues=[-0.55,-0.55];

/* ---------- rendering helpers ---------- */
const NS='http://www.w3.org/2000/svg';
function add(parent,tag,attrs){
  const el=document.createElementNS(NS,tag);
  for(const k in attrs){el.setAttribute(k,attrs[k]);}
  parent.appendChild(el);
  return el;
}
function pts(years,values,xf,yf){
  return years.map((t,i)=>xf(t).toFixed(1)+','+yf(values[i]).toFixed(1)).join(' ');
}
function drawLine(g,years,values,xf,yf,color,width,name){
  const p=pts(years,values,xf,yf);
  const band=add(g,'polyline',{points:p,fill:'none',stroke:color,'stroke-opacity':0.16,'stroke-width':width+4,'stroke-linejoin':'round'});
  
  
  const el=add(g,'polyline',{points:p,fill:'none',stroke:color,'stroke-width':width,'stroke-linejoin':'round'});
  
  
}
function drawBandSpikes(g,years,values,baseline,xf,yf,color,name){
  years.forEach((t,i)=>{
    const el=add(g,'line',{x1:xf(t),x2:xf(t),y1:yf(baseline),y2:yf(values[i]),stroke:color,'stroke-opacity':0.14,'stroke-width':4});
    
    
  });
}
function drawSpikes(g,years,values,end,xf,yf,color,name){
  const dt=0.03;
  let d='M'+xf(1990).toFixed(1)+' '+yf(0).toFixed(1);
  years.forEach((t,i)=>{
    d+=' L'+xf(t-dt).toFixed(1)+' '+yf(0).toFixed(1)+' L'+xf(t).toFixed(1)+' '+yf(values[i]).toFixed(1)+' L'+xf(t+dt).toFixed(1)+' '+yf(0).toFixed(1);
  });
  d+=' L'+xf(end).toFixed(1)+' '+yf(0).toFixed(1);
  const band=add(g,'line',{x1:xf(1990),x2:xf(end),y1:yf(0),y2:yf(0),stroke:color,'stroke-opacity':0.3,'stroke-width':8});
  
  
  const el=add(g,'path',{d:d,fill:color,stroke:color,'stroke-width':2,'stroke-linejoin':'miter'});
  
  
}
/* Joins envelope points: 'line' is straight, 'bump' bulges outward (rounded peaks, sharp valleys),
   'spike' hugs the inner level and rises sharply at each peak. */
function curveThrough(points,outward,mode,f){
  let d='';
  for(let i=1;i<points.length;i++){
    const a=points[i-1],b=points[i];
    if(mode==='line'){
      d+=' L'+b[0].toFixed(1)+' '+b[1].toFixed(1);
      continue;
    }
    const aOuter=(a[1]-b[1])*outward>0;
    const outer=aOuter?a:b,inner=aOuter?b:a;
    const cx=inner[0]+f*(outer[0]-inner[0]);
    const cy=mode==='bump'?outer[1]:inner[1];
    d+=' Q'+cx.toFixed(1)+' '+cy.toFixed(1)+' '+b[0].toFixed(1)+' '+b[1].toFixed(1);
  }
  return d;
}
function drawEnvelope(g,topY,topV,botY,botV,xf,yf,color,strokeWidth,name,clip,mode,f,shift,pad){
  const top=topY.map((t,i)=>[xf(t),yf(topV[i])-shift]);
  const bot=botY.map((t,i)=>[xf(t),yf(botV[i])+shift]).reverse();
  top[0][0]-=pad;
  top[top.length-1][0]+=pad;
  bot[0][0]+=pad;
  bot[bot.length-1][0]-=pad;
  const d='M'+top[0][0].toFixed(1)+' '+top[0][1].toFixed(1)+curveThrough(top,-1,mode,f)
    +' L'+bot[0][0].toFixed(1)+' '+bot[0][1].toFixed(1)+curveThrough(bot,1,mode,f)+' Z';
  const attrs={d:d,fill:color,stroke:color,'stroke-width':strokeWidth,'stroke-linejoin':'round'};
  if(clip){attrs['clip-path']='url(#'+clip+')';}
  const el=add(g,'path',attrs);
  
  
}
function drawStack(g,breaks,blue,green,xf,yf,name){
  for(let i=0;i<blue.length;i++){
    const x=xf(breaks[i]),w=xf(breaks[i+1])-x;
    const r=add(g,'rect',{x:x,width:w,y:yf(1),height:yf(green[i])-yf(1),fill:'#ff8080','shape-rendering':'crispEdges'});
    
    
    const m=add(g,'rect',{x:x,width:w,y:yf(green[i]),height:yf(blue[i])-yf(green[i]),fill:'#80ff80','shape-rendering':'crispEdges'});
    
    
    const b=add(g,'rect',{x:x,width:w,y:yf(blue[i]),height:yf(0)-yf(blue[i]),fill:'#8080ff','shape-rendering':'crispEdges'});
    
    
  }
  const mid=add(g,'line',{x1:xf(1990),x2:xf(breaks[breaks.length-1]),y1:yf(0.5),y2:yf(0.5),stroke:'#333','stroke-width':4,'stroke-dasharray':'12 7'});
  
  
}
function drawCps(g,cps,y1,y2,xf,name){
  cps.forEach(t=>{
    const el=add(g,'line',{x1:xf(t),x2:xf(t),y1:y1,y2:y2,stroke:'#333','stroke-width':3.2,'stroke-dasharray':'14 9.5'});
    
    
  });
}
function drawYAxis(g,side,ticks,labels,yf,fx,name){
  const dir=side==='left'?1:-1;
  const ys=ticks.map(yf);
  const axis=add(g,'line',{x1:fx,x2:fx,y1:Math.min.apply(null,ys),y2:Math.max.apply(null,ys),stroke:'#222','stroke-width':4});
  
  
  ticks.forEach(v=>{
    const t=add(g,'line',{x1:fx,x2:fx+dir*13,y1:yf(v),y2:yf(v),stroke:'#222','stroke-width':3});
    
    
  });
  const bx=side==='left'?fx-28:fx+62;
  labels.forEach(s=>{
    const y=yf(parseFloat(s));
    const el=add(g,'text',{transform:'translate('+bx+' '+y.toFixed(1)+') rotate(-90)','text-anchor':'middle','font-size':45});
    el.textContent=s;
    
    
  });
}
function drawFrame(g,left,right,xf){
  const edge=[[left,97,right,97],[right,97,right,1799],[left,1799,right,1799],[left,97,left,1799]];
  edge.forEach(s=>{
    const e=add(g,'line',{x1:s[0],y1:s[1],x2:s[2],y2:s[3],stroke:'#666','stroke-width':4});
    
    
  });
  [359,620.7,784,948,1210,1373,1537,1668].forEach(y=>{
    const d=add(g,'line',{x1:left,x2:right,y1:y,y2:y,stroke:'#222','stroke-width':4});
    
    
    yearTicks.forEach(t=>{
      const k=add(g,'line',{x1:xf(t),x2:xf(t),y1:y,y2:y-13,stroke:'#111','stroke-width':3});
      
      
    });
  });
  yearTicks.forEach(t=>{
    const k=add(g,'line',{x1:xf(t),x2:xf(t),y1:1799,y2:1786,stroke:'#111','stroke-width':3});
    
    
    const lab=add(g,'text',{x:xf(t),y:1860,'text-anchor':'middle','font-size':44});
    lab.textContent=String(t);
    
    
  });
  const ax=add(g,'line',{x1:xf(yearTicks[0]),x2:xf(yearTicks[yearTicks.length-1]),y1:1799,y2:1799,stroke:'#111','stroke-width':5});
  
  
}

/* ---------- axis functions ---------- */
const xA=t=>237.6+(t-1990)*48.9;
const xB=t=>2635.4+(t-1990)*48.93;
const scale=(y0,k)=>v=>y0-k*v;

/* ---------- temperature plot ---------- */
(function(){
  const g=document.getElementById('plotA');
  const yY=scale(253.6,7.37),ySeason=scale(471.3,38.54),yScp=scale(779,532),yOS=scale(942.3,30.5),
        yTrend=scale(1107,53.6),yTcp=scale(1368.5,570),yOT=scale(1531,150.5),ySign=scale(1663.4,120.7),yErr=scale(1744.3,3.82);
  drawEnvelope(g,tempCloudTopYears,tempCloudTopValues,tempCloudBottomYears,tempCloudBottomValues,xA,yY,'#757575',6,'temperature-observation-cloud','clipYA','bump',0.35,7,9);
  drawLine(g,tempFitYears,tempFitValues,xA,yY,'#111',5,'temperature-fitted-line');
  drawBandSpikes(g,tempSeasonBandYears,tempSeasonBandValues,0,xA,ySeason,'#ff0000','temperature-season-ci-spike');
  drawLine(g,tempSeasonYears,tempSeasonValues,xA,ySeason,'#ff0000',2.6,'temperature-season-line');
  drawSpikes(g,tempScpYears,tempScpValues,2023,xA,yScp,'#ff0000','temperature-scp-probability');
  drawLine(g,tempOrderSYears,tempOrderSValues,xA,yOS,'#ff0000',2.8,'temperature-order-s-line');
  drawCps(g,tempSeasonCps,362,947,xA,'temperature-season-changepoint');
  drawLine(g,tempTrendYears,tempTrendValues,xA,yTrend,'#00ff00',2.8,'temperature-trend-line');
  drawSpikes(g,tempTcpYears,tempTcpValues,2023,xA,yTcp,'#00ff00','temperature-tcp-probability');
  drawLine(g,tempOrderTYears,tempOrderTValues,xA,yOT,'#00ff00',2.8,'temperature-order-t-line');
  drawCps(g,tempTrendCps,951,1536,xA,'temperature-trend-changepoint');
  drawStack(g,tempSignBreaks,tempSignBlue,tempSignGreen,xA,ySign,'temperature-slope-sign');
  drawEnvelope(g,tempErrorTopYears,tempErrorTopValues,tempErrorBottomYears,tempErrorBottomValues,xA,yErr,'#a9a9a9',0,'temperature-error-band',null,'line',0,0,0);
  drawFrame(g,172,1913.5,xA);
  drawYAxis(g,'left',tempYTicks,tempYLabels,yY,172,'temperature-y');
  drawYAxis(g,'right',tempSeasonTicks,tempSeasonLabels,ySeason,1913.5,'temperature-season');
  drawYAxis(g,'left',tempScpTicks,tempScpLabels,yScp,172,'temperature-scp');
  drawYAxis(g,'right',orderSTicks,orderSLabels,yOS,1913.5,'temperature-order-s');
  drawYAxis(g,'left',tempTrendTicks,tempTrendLabels,yTrend,172,'temperature-trend');
  drawYAxis(g,'right',tempTcpTicks,tempTcpLabels,yTcp,1913.5,'temperature-tcp');
  drawYAxis(g,'left',orderTTicks,orderTLabels,yOT,172,'temperature-order-t');
  drawYAxis(g,'right',signTicks,signLabels,ySign,1913.5,'temperature-slp-sign');
  drawYAxis(g,'left',tempErrorTicks,tempErrorLabels,yErr,172,'temperature-error');
})();

/* ---------- precipitation plot ---------- */
(function(){
  const g=document.getElementById('plotB');
  const yY=scale(340.1,12.73),ySeason=scale(513.2,121),yScp=scale(778.7,464.7),yOS=scale(942.3,30.5),
        yTrend=scale(1077,123.5),yTcp=scale(1368.4,469.2),yOT=scale(1531,150.5),ySign=scale(1663.4,120.7),yErr=scale(1789,6.27);
  drawEnvelope(g,precipCloudTopYears,precipCloudTopValues,precipCloudBottomYears,precipCloudBottomValues,xB,yY,'#757575',6,'precipitation-observation-cloud','clipYB','bump',0.35,7,9);
  precipOutlierYears.forEach((t,i)=>{
    const c=add(g,'circle',{cx:xB(t).toFixed(1),cy:yY(precipOutlierValues[i]).toFixed(1),r:10,fill:'none',stroke:'#757575','stroke-width':3.4,'clip-path':'url(#clipYB)'});
    
    
  });
  const base=add(g,'line',{x1:xB(1990.1),x2:xB(2022.9),y1:355.3,y2:355.3,stroke:'#fff','stroke-width':2.5,'stroke-dasharray':'17 29'});
  
  
  drawLine(g,precipFitYears,precipFitValues,xB,yY,'#111',5,'precipitation-fitted-line');
  drawBandSpikes(g,precipSeasonBandYears,precipSeasonBandValues,0,xB,ySeason,'#ff0000','precipitation-season-ci-spike');
  drawLine(g,precipSeasonYears,precipSeasonValues,xB,ySeason,'#ff0000',2.6,'precipitation-season-line');
  drawSpikes(g,precipScpYears,precipScpValues,2023,xB,yScp,'#ff0000','precipitation-scp-probability');
  drawLine(g,precipOrderSYears,precipOrderSValues,xB,yOS,'#ff0000',2.8,'precipitation-order-s-line');
  drawCps(g,precipSeasonCps,362,947,xB,'precipitation-season-changepoint');
  drawBandSpikes(g,precipTrendBandYears,precipTrendBandValues,0,xB,yTrend,'#00ff00','precipitation-trend-ci-spike');
  drawLine(g,precipTrendYears,precipTrendValues,xB,yTrend,'#00ff00',2.8,'precipitation-trend-line');
  drawSpikes(g,precipTcpYears,precipTcpValues,2023,xB,yTcp,'#00ff00','precipitation-tcp-probability');
  drawLine(g,precipOrderTYears,precipOrderTValues,xB,yOT,'#00ff00',2.8,'precipitation-order-t-line');
  drawCps(g,precipTrendCps,951,1536,xB,'precipitation-trend-changepoint');
  drawStack(g,precipSignBreaks,precipSignBlue,precipSignGreen,xB,ySign,'precipitation-slope-sign');
  drawEnvelope(g,precipErrorTopYears,precipErrorTopValues,precipErrorBottomYears,precipErrorBottomValues,xB,yErr,'#a9a9a9',0,'precipitation-error-band',null,'spike',0.85,0,0);
  drawFrame(g,2571,4312,xB);
  drawYAxis(g,'left',precipYTicks,precipYLabels,yY,2571,'precipitation-y');
  drawYAxis(g,'right',precipSeasonTicks,precipSeasonLabels,ySeason,4312,'precipitation-season');
  drawYAxis(g,'left',precipScpTicks,precipScpLabels,yScp,2571,'precipitation-scp');
  drawYAxis(g,'right',orderSTicks,orderSLabels,yOS,4312,'precipitation-order-s');
  drawYAxis(g,'left',precipTrendTicks,precipTrendLabels,yTrend,2571,'precipitation-trend');
  drawYAxis(g,'right',precipTcpTicks,precipTcpLabels,yTcp,4312,'precipitation-tcp');
  drawYAxis(g,'left',orderTTicks,orderTLabels,yOT,2571,'precipitation-order-t');
  drawYAxis(g,'right',signTicks,signLabels,ySign,4312,'precipitation-slp-sign');
  drawYAxis(g,'left',precipErrorTicks,precipErrorLabels,yErr,2571,'precipitation-error');
})();
</script>
</body>
</html>
